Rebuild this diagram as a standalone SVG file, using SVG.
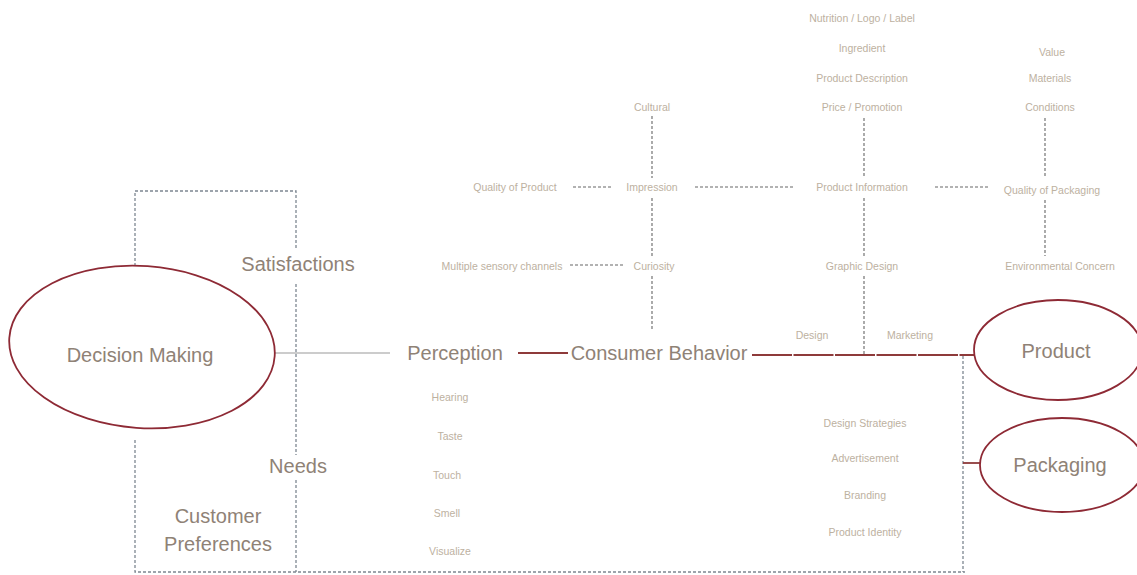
<svg xmlns="http://www.w3.org/2000/svg" width="1137" height="575" viewBox="0 0 1137 575">
<style>
.main{font-family:"Liberation Sans",Arial,sans-serif;font-size:20px;fill:#8f8276;text-anchor:middle;dominant-baseline:central}
.small{font-family:"Liberation Sans",Arial,sans-serif;font-size:10.5px;fill:#bdb19f;text-anchor:middle;dominant-baseline:central}
.ell{fill:none;stroke:#8e2a35;stroke-width:1.8}
.dash{fill:none;stroke:#7d8791;stroke-width:1.3;stroke-dasharray:3 2}
.dashd{fill:none;stroke:#666;stroke-width:1.1;stroke-dasharray:3 2}
.red{fill:none;stroke:#8e3a3a;stroke-width:1.8}
.gray{fill:none;stroke:#bbb;stroke-width:1.5}
</style>
<rect width="1137" height="575" fill="#fff"/>
<g id="connectors">
<path class="dash" d="M135,266 V191 H296 V248"/>
<path class="dash" d="M296,284 V455"/>
<path class="dash" d="M296,480 V572"/>
<path class="dash" d="M135,440 V572 H965"/>
<path class="dash" d="M963,356 V572"/>
<path class="gray" d="M275,353 H390"/>
<path class="red" d="M518,353 H568"/>
<path class="red" d="M752,355 H975" stroke-dasharray="40 1.5"/>
<path class="red" d="M963,463 H980"/>
<path class="dashd" d="M652,116 V178"/>
<path class="dashd" d="M652,198 V256"/>
<path class="dashd" d="M652,276 V330"/>
<path class="dashd" d="M864,118 V178"/>
<path class="dashd" d="M864,198 V256"/>
<path class="dashd" d="M864,276 V355"/>
<path class="dashd" d="M1045,118 V178"/>
<path class="dashd" d="M1045,200 V256"/>
<path class="dashd" d="M573,187 H612"/>
<path class="dashd" d="M695,187 H795"/>
<path class="dashd" d="M935,187 H990"/>
<path class="dashd" d="M570,265 H625"/>
</g>
<g id="decision-making">
<ellipse class="ell" cx="142" cy="347" rx="133" ry="81" transform="rotate(4 142 347)"/>
<text class="main" x="140" y="355">Decision Making</text>
</g>
<g id="product">
<ellipse class="ell" cx="1058" cy="350" rx="84" ry="50"/>
<text class="main" x="1056" y="351">Product</text>
</g>
<g id="packaging">
<ellipse class="ell" cx="1062" cy="465" rx="82" ry="47"/>
<text class="main" x="1060" y="465">Packaging</text>
</g>
<g id="perception"><text class="main" x="455" y="353">Perception</text></g>
<g id="consumer-behavior"><text class="main" x="659" y="353">Consumer Behavior</text></g>
<g id="satisfactions"><text class="main" x="298" y="264">Satisfactions</text></g>
<g id="needs"><text class="main" x="298" y="466">Needs</text></g>
<g id="customer-preferences"><text class="main" x="218" y="516">Customer</text><text class="main" x="218" y="544">Preferences</text></g>
<g id="top-labels">
<text class="small" x="862" y="18">Nutrition / Logo / Label</text>
<text class="small" x="862" y="48">Ingredient</text>
<text class="small" x="862" y="78">Product Description</text>
<text class="small" x="862" y="107">Price / Promotion</text>
<text class="small" x="1052" y="52">Value</text>
<text class="small" x="1050" y="78">Materials</text>
<text class="small" x="1050" y="107">Conditions</text>
<text class="small" x="652" y="107">Cultural</text>
</g>
<g id="row1">
<text class="small" x="515" y="187">Quality of Product</text>
<text class="small" x="652" y="187">Impression</text>
<text class="small" x="862" y="187">Product Information</text>
<text class="small" x="1052" y="190">Quality of Packaging</text>
</g>
<g id="row2">
<text class="small" x="502" y="266">Multiple sensory channels</text>
<text class="small" x="654" y="266">Curiosity</text>
<text class="small" x="862" y="266">Graphic Design</text>
<text class="small" x="1060" y="266">Environmental Concern</text>
</g>
<g id="design-marketing">
<text class="small" x="812" y="335">Design</text>
<text class="small" x="910" y="335">Marketing</text>
</g>
<g id="senses">
<text class="small" x="450" y="397">Hearing</text>
<text class="small" x="450" y="436">Taste</text>
<text class="small" x="447" y="475">Touch</text>
<text class="small" x="447" y="513">Smell</text>
<text class="small" x="450" y="551">Visualize</text>
</g>
<g id="strategies">
<text class="small" x="865" y="423">Design Strategies</text>
<text class="small" x="865" y="458">Advertisement</text>
<text class="small" x="865" y="495">Branding</text>
<text class="small" x="865" y="532">Product Identity</text>
</g>
</svg>
